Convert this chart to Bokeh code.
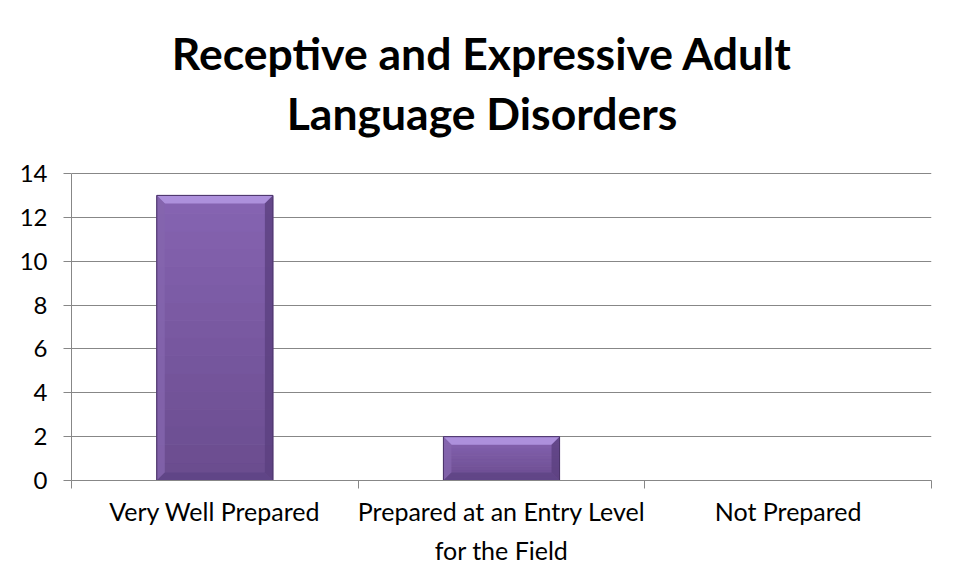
from bokeh.plotting import figure
from bokeh.models import Range1d, FixedTicker
from bokeh.core.properties import value
from bokeh.embed import file_html
from bokeh.resources import INLINE

title_lines = ["Receptive and Expressive Adult", "Language Disorders"]
categories = ["Very Well Prepared", "Prepared at an Entry Level\nfor the Field", "Not Prepared"]
values = [13, 2, 0]
y_ticks = [0, 2, 4, 6, 8, 10, 12, 14]
y_max = 14

FONT = "Lato"
GRAY = "#878787"

W, H = 945, 562
L, R, B = 71, 14, 82
fw, fh = W - L - R, H - B
plot_h = 307                      # pixel height of the 0..14 value area
px_y = y_max / plot_h             # data units per pixel (y)
px_x = len(categories) / fw       # data units per pixel (x)
y_top = fh * px_y

p = figure(width=W, height=H, output_backend="svg", toolbar_location=None,
           x_range=Range1d(0, len(categories)), y_range=Range1d(0, y_top),
           min_border_left=L, min_border_right=R, min_border_top=0, min_border_bottom=B,
           frame_width=fw, frame_height=fh)
p.title.visible = False
p.outline_line_color = None
p.background_fill_color = "white"
p.border_fill_color = "white"

# grid
p.xgrid.grid_line_color = None
p.ygrid.grid_line_color = GRAY
p.ygrid.grid_line_width = 1
p.ygrid.ticker = FixedTicker(ticks=y_ticks)

# y axis
p.yaxis.ticker = FixedTicker(ticks=y_ticks)
p.yaxis.bounds = (0, y_max)
p.yaxis.axis_line_color = GRAY
p.yaxis.major_tick_line_color = GRAY
p.yaxis.major_tick_out = 8
p.yaxis.major_tick_in = 0
p.yaxis.minor_tick_line_color = None
p.yaxis.major_label_standoff = 16
p.yaxis.major_label_text_font = FONT
p.yaxis.major_label_text_font_size = "24px"
p.yaxis.major_label_text_color = "black"

# x axis: labels at centers, boundary ticks as minor ticks
centers = [i + 0.5 for i in range(len(categories))]
bounds = [i for i in range(len(categories) + 1)]
p.xaxis.ticker = FixedTicker(ticks=centers, minor_ticks=bounds)
p.xaxis.major_label_overrides = {c: lab for c, lab in zip(centers, categories)}
p.xaxis.axis_line_color = GRAY
p.xaxis.major_tick_line_color = None
p.xaxis.major_tick_out = 0
p.xaxis.major_tick_in = 0
p.xaxis.minor_tick_line_color = GRAY
p.xaxis.minor_tick_out = 8
p.xaxis.minor_tick_in = 0
p.xaxis.major_label_standoff = 7
p.xaxis.major_label_text_font = FONT
p.xaxis.major_label_text_font_size = "25px"
p.xaxis.major_label_text_color = "black"
p.xaxis.major_label_text_line_height = 1.3

# bars with bevel
bw = 0.405
dx, dy = 8 * px_x, 8 * px_y

def mix(c1, c2, t):
    a = [int(c1[i:i + 2], 16) for i in (1, 3, 5)]
    b = [int(c2[i:i + 2], 16) for i in (1, 3, 5)]
    return "#%02x%02x%02x" % tuple(round(a[k] + (b[k] - a[k]) * t) for k in range(3))

for c, v in zip(centers, values):
    if v <= 0:
        continue
    l, r = c - bw / 2, c + bw / 2
    n = 16
    tops, bots, cols = [], [], []
    for k in range(n):
        bots.append(v * k / n)
        tops.append(v * (k + 1) / n)
        cols.append(mix("#6a4c8e", "#8664b2", (k + 0.5) / n))
    p.quad(left=[l] * n, right=[r] * n, bottom=bots, top=tops, fill_color=cols,
           line_color=cols, line_width=1)
    p.patch([l, r, r - dx, l + dx], [v, v, v - dy, v - dy], fill_color="#ad90dc", line_color=None)
    p.patch([l, l + dx, l + dx, l], [0, dy, v - dy, v], fill_color="#8565ae", line_color=None, fill_alpha=0.8)
    p.patch([r, r - dx, r - dx, r], [0, dy, v - dy, v], fill_color="#5b4080", line_color=None, fill_alpha=0.8)
    p.patch([l, r, r - dx, l + dx], [0, 0, dy, dy], fill_color="#5e4384", line_color=None, fill_alpha=0.8)
    p.quad(left=[l], right=[r], bottom=[0], top=[v], fill_color=None, line_color="#4a3468", line_width=1)

# title, drawn in the space above the value area
title_cx = (481.5 - L) * px_x
title_y = [y_max + 121 * px_y, y_max + 61 * px_y]
p.text(x=[title_cx] * 2, y=title_y, text=title_lines, text_align="center",
       text_baseline="alphabetic", text_font=value(FONT), text_font_style="bold",
       text_font_size="44.5px", text_color="black")

open("out.html", "w").write(file_html(p, INLINE))
